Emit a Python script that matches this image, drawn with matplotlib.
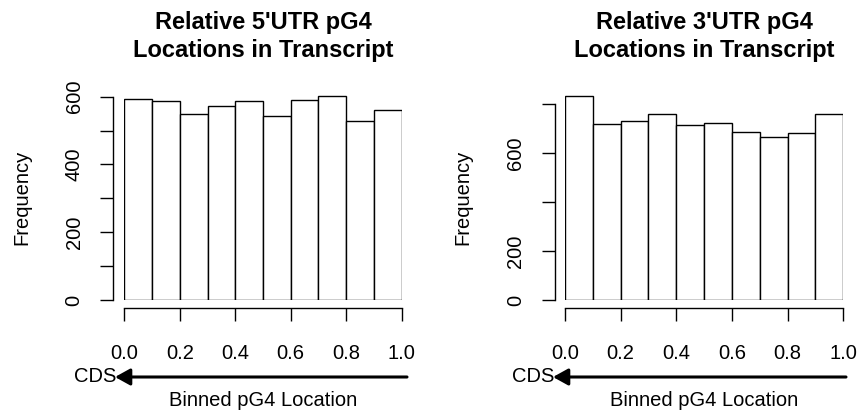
import matplotlib
matplotlib.use("Agg")
import matplotlib.pyplot as plt
from matplotlib.patches import FancyArrowPatch
import numpy as np

plt.rcParams['font.family'] = ['Liberation Sans', 'DejaVu Sans']

# Histogram bin edges (relative location) and counts
bin_edges = [0.0, 0.1, 0.2, 0.3, 0.4, 0.5, 0.6, 0.7, 0.8, 0.9, 1.0]
utr5_counts = [593, 587, 549, 574, 588, 544, 590, 603, 529, 562]
utr3_counts = [836, 721, 731, 760, 716, 723, 686, 666, 683, 761]

utr5_title = "Relative 5'UTR pG4\nLocations in Transcript"
utr3_title = "Relative 3'UTR pG4\nLocations in Transcript"

x_ticks = [0.0, 0.2, 0.4, 0.6, 0.8, 1.0]
x_ticklabels = ["0.0", "0.2", "0.4", "0.6", "0.8", "1.0"]
utr5_yticks = [0, 100, 200, 300, 400, 500, 600]
utr5_yticklabels = ["0", "", "200", "", "400", "", "600"]
utr3_yticks = [0, 200, 400, 600, 800]
utr3_yticklabels = ["0", "200", "", "600", ""]

W, H = 861, 415
FS = 14.5
fig = plt.figure(figsize=(W / 100, H / 100), dpi=100)


def px(x, y):
    """Pixel position (from top-left) to figure fraction."""
    return x / W, 1 - y / H


def panel(rect, counts, ylim, yticks, yticklabels, ybound, spine_off_px,
          title, title_x, ylabel_x, arrow_head_x, arrow_tail_x):
    ax = fig.add_axes(rect)
    edges = np.array(bin_edges)
    ax.bar(edges[:-1], counts, width=np.diff(edges), align='edge',
           facecolor='white', edgecolor='black', linewidth=1.0)
    ax.set_xlim(0, 1)
    ax.set_ylim(*ylim)
    for s in ('top', 'right'):
        ax.spines[s].set_visible(False)
    ax.spines['left'].set_position(('outward', spine_off_px * 0.72))
    ax.spines['bottom'].set_position(('outward', 8.3 * 0.72))
    ax.spines['left'].set_bounds(0, ybound)
    ax.spines['bottom'].set_bounds(0, 1)
    for s in ('left', 'bottom'):
        ax.spines[s].set_linewidth(1.0)
    ax.set_xticks(x_ticks)
    ax.set_xticklabels(x_ticklabels)
    ax.set_yticks(yticks)
    ax.set_yticklabels(yticklabels, rotation=90, va='center')
    ax.tick_params(axis='y', length=9.4, width=1.0, pad=12, labelsize=FS)
    ax.tick_params(axis='x', length=9.6, width=1.0, pad=16, labelsize=FS)

    fig.text(*px(title_x, 36.5), title, ha='center', va='center',
             fontsize=17, fontweight='bold', linespacing=1.32)
    fig.text(*px(ylabel_x, 197), "Frequency", rotation=90,
             ha='center', va='center', fontsize=FS)
    fig.text(*px(title_x, 400), "Binned pG4 Location",
             ha='center', va='center', fontsize=FS)
    fig.text(*px(arrow_head_x + 1, 377), "CDS", ha='right', va='center',
             fontsize=FS)
    fig.patches.append(FancyArrowPatch(
        px(arrow_tail_x, 377), px(arrow_head_x, 377),
        transform=fig.transFigure,
        arrowstyle='-|>,head_length=0.65,head_width=0.36',
        mutation_scale=14, linewidth=2.2, color='black',
        shrinkA=0, shrinkB=0))
    return ax


ax1 = panel([124.3 / W, 115 / H, 277.4 / W, 620 * 0.3388 / H],
            utr5_counts, (0, 620), utr5_yticks, utr5_yticklabels, 600, 11,
            utr5_title, 263, 22, 115, 407)
ax2 = panel([565 / W, 115 / H, 278.3 / W, 850 * 0.2444 / H],
            utr3_counts, (0, 850), utr3_yticks, utr3_yticklabels, 800, 10,
            utr3_title, 704, 463, 553, 846)

fig.savefig("out.png", dpi=100, facecolor='white')
